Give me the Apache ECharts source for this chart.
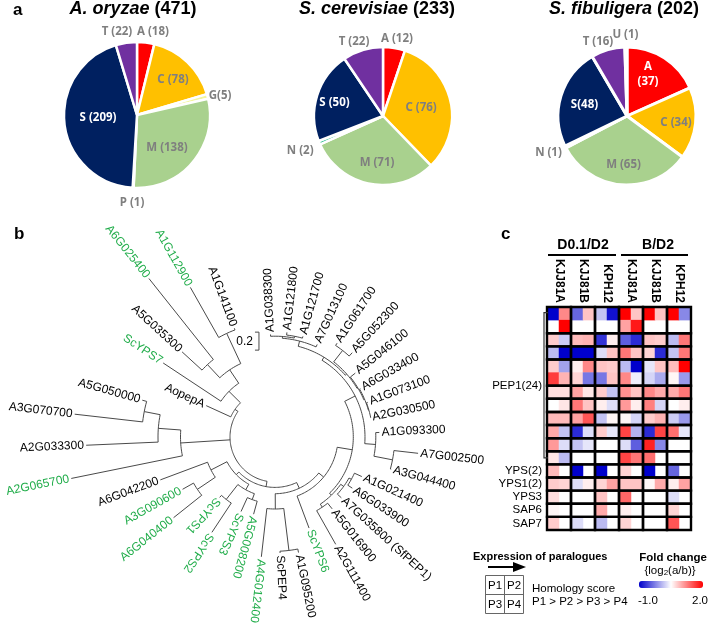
<!DOCTYPE html>
<html><head><meta charset="utf-8">
<script src="https://cdn.jsdelivr.net/npm/echarts@6/dist/echarts.min.js"></script>
<style>html,body{margin:0;padding:0;background:#fff}#c{width:709px;height:625px}</style>
</head><body><div id="c"></div>
<script>
// ================= DATA =================
// Panel a: pie charts
const pieTitles = ['A. oryzae', 'S. cerevisiae', 'S. fibuligera'];
const pieTotals = [471, 233, 202];
const pie1Names = ['A', 'C', 'G', 'M', 'P', 'S', 'T'];
const pie1Values = [18, 78, 5, 138, 1, 209, 22];
const pie2Names = ['A', 'C', 'M', 'N', 'S', 'T'];
const pie2Values = [12, 76, 71, 2, 50, 22];
const pie3Names = ['A', 'C', 'M', 'N', 'S', 'T', 'U'];
const pie3Values = [37, 34, 65, 1, 48, 16, 1];

// Panel b: tree (leaves in clockwise order from top)
const leafNames = ['A1G038300','A1G121800','A1G121700','A7G013100','A1G061700','A5G052300','A5G046100','A6G033400','A1G073100','A2G030500','A1G093300','A7G002500','A3G044400','A1G021400','A6G033900','A7G035800 (SfPEP1)','A5G016900','A2G111400','ScYPS6','A1G095200','ScPEP4','A4G012400','A5G008200','ScYPS3','ScYPS2','ScYPS1','A6G040400','A3G090600','A6G042200','A2G065700','A2G033300','A3G070700','A5G050000','AopepA','ScYPS7','A5G035300','A6G025400','A1G112900','A1G141100'];
const leafDist = [0.64,0.67,0.66,0.63,0.75,0.77,0.64,0.59,0.60,0.58,0.66,1.10,0.84,0.56,0.53,0.50,0.52,0.87,0.58,0.81,0.79,0.84,0.39,0.41,0.77,0.41,0.94,0.68,0.86,1.81,1.60,1.74,1.03,0.34,0.99,0.90,1.75,1.41,0.79];
const greenLeaves = ['ScYPS6','A4G012400','A5G008200','ScYPS3','ScYPS2','ScYPS1','A6G040400','A3G090600','A2G065700','ScYPS7','A6G025400','A1G112900'];
// internal node: [distance from root, children...]; leaf = index into leafNames
const treeTopology =
[0.00,
  [0.06,
    [0.13,
      [0.20,
        [0.37,
          [0.50,
            [0.54,
              [0.60, [0.62, 0, [0.64, 1, 2]], 3],
              [0.56, [0.72, 4, 5], [0.57, 6, [0.58, 7, [0.585, 8, 9]]]]
            ],
            [0.62, 10, [0.83, 11, 12]]
          ],
          [0.40, [0.44, [0.47, 13, 14], 15], [0.44, 16, 17]]
        ],
        18
      ],
      [0.30, [0.77, 19, 20], 21]
    ],
    [0.10,
      [0.17, [0.24, 22, 23], [0.38, 24, 25]],
      [0.30, [0.54, 26, 27], 28]
    ]
  ],
  [0.55, 29, [0.80, 30, [0.98, 31, 32]]],
  [0.04, 33, [0.22, 34, [0.40, [0.60, 35, 36], [0.77, 37, 38]]]]
];
const scaleBarLength = 0.2;

// Panel c: heatmap (log2 fold change; null = blank)
const heatGroups = ['D0.1/D2', 'B/D2'];
const heatCols = ['KJJ81A', 'KJJ81B', 'KPH12', 'KJJ81A', 'KJJ81B', 'KPH12'];
const heatRowLabels = ['PEP1(24)', 'YPS(2)', 'YPS1(2)', 'YPS3', 'SAP6', 'SAP7'];
const pep1Values = [
  [-1, 1.2, -0.4, 0.85, 0.15, -0.9, 2, 0.85, 2, 0.85, 2, -0.2],
  [null, 2, null, null, null, null, 1.05, 1.85, null, null, null, null],
  [0.8, 0.2, 0.9, 0.95, -0.7, 0.6, -0.45, -0.75, 0.85, 0.8, 0.1, 1.3],
  [0.1, -1, -1, -1, 0.3, 0.85, 1.3, 0.85, 0.75, -0.75, 0.15, 1.3],
  [0.8, -0.05, 0.6, 1.2, 0.85, 0.8, 0.1, -1, 0.35, 0.85, 0.9, 2],
  [1.65, 0.95, 0.75, -0.3, -0.3, 0.85, 1.2, 0.4, 0.25, 0.0, 0.55, -0.1],
  [0.7, 0.7, 1.05, 0.65, 0.8, 0.15, 1.15, 0.85, 1.2, 1.0, 1.0, 1.3],
  [null, 0.65, 1.3, 0.85, 0.6, 0.3, 1.1, 0.6, 1.25, 0.25, null, 0.6],
  [0.9, 0.9, 1.05, 1.5, 0.15, 0.55, 0.55, 0.25, 0.8, 0.95, 0.2, -0.1],
  [1.0, 0.15, -0.75, 0.3, 0.8, 0.35, 1.6, 0.05, -0.75, 1.6, 1.35, 0.35],
  [1.1, 0.3, 0.15, 0.35, null, null, 0.3, -0.45, 1.8, -0.2, null, null],
  [0.65, 0.1, null, null, null, null, 1.6, 1.3, 1.35, null, null, null]
];
const ypsValues  = [0.9, null, -1, null, -1, null, 0.75, null, -1, null, -0.4, null];
const yps1Values = [0.8, 0.75, 0.3, 0.6, 0.75, 1.05, 0.85, 0.85, 0.55, 1.0, 0.6, 1.05];
const yps3Values = [0.7, null, null, null, 0.85, null, 1.4, null, null, null, 0.3, null];
const sap6Values = [0.55, null, null, null, 1.0, null, 0.6, null, null, null, 0.75, null];
const sap7Values = [0.8, null, 0.3, null, 0.1, null, 0.75, null, null, null, 1.5, null];
const colorScaleMin = -1.0, colorScaleMax = 2.0;

// ================= STYLE / LAYOUT =================
const sliceColors = {A:'#FF0000', C:'#FFC000', G:'#F4F59C', M:'#A9D18E', P:'#C9D9EE', N:'#2FBF8F', S:'#002060', T:'#7030A0', U:'#C9D9EE'};
const pieNames = [pie1Names, pie2Names, pie3Names];
const pieValues = [pie1Values, pie2Values, pie3Values];
const pieSep = [[' ',' ','',' ',' ',' ',' '], [' ',' ',' ',' ',' ',' '], ['\n',' ',' ',' ','',' ',' ']];
const whiteLabels = [['S'], ['S'], ['S', 'A']];
const pieCenters = [[137, 115], [383, 116], [627, 116]];
const pieRadius = [73, 69, 69];
const pieBorder = [2.5, 2.5, 3];
const pieLabelNudge = [
  [[11.6,-46.8],[10.8,-8.5],[47.7,-9.7],[2,9.6],[-3,51.6],[-2.7,-1.3],[-14.7,-46.9]],
  [[8.4,-43],[4.4,-0.4],[0.5,13],[-51,21.6],[-15.6,-2.7],[-18.9,-41]],
  [[2.2,-12.6],[14.7,3.3],[-0.8,14.6],[-47.7,21.2],[-9.5,-1],[-19.5,-41.1],[-1,-46.5]]
];
const titleCenters = [[133, 9], [377, 9], [624, 9]];
const LEAF_START = -2.5, LEAF_STEP = 9;
const GREEN = '#22ad4b';
const FONT = '"Liberation Sans", Arial, sans-serif';

// ================= BUILD =================
function pieLabelPos(p, i) {
  const vals = pieValues[p];
  const tot = vals.reduce((a, b) => a + b, 0);
  let cum = 0; for (let k = 0; k < i; k++) cum += vals[k];
  const mid = (cum + vals[i] / 2) / tot * 2 * Math.PI;
  const [cx, cy] = pieCenters[p]; const r = pieRadius[p] / 2;
  const n = pieLabelNudge[p][i];
  return [cx + r * Math.sin(mid) + n[0], cy - r * Math.cos(mid) + n[1]];
}
const pieSeries = pieValues.map((vals, p) => ({
  type: 'pie', center: pieCenters[p], radius: pieRadius[p], startAngle: 90, clockwise: true,
  silent: true, animation: false, avoidLabelOverlap: false,
  itemStyle: { borderColor: '#fff', borderWidth: pieBorder[p] },
  label: {
    show: true, position: 'outside',
    formatter: (prm) => pieNames[p][prm.dataIndex] + pieSep[p][prm.dataIndex] + '(' + prm.value + ')',
    fontFamily: '"Noto Sans", sans-serif', fontWeight: 'bold', fontSize: 11.5, color: '#7f7f7f', lineHeight: 15
  },
  labelLine: { show: false },
  labelLayout: (prm) => { const pos = pieLabelPos(p, prm.dataIndex); return { x: pos[0], y: pos[1], align: 'center', verticalAlign: 'middle' }; },
  data: vals.map((v, i) => {
    const nm = pieNames[p][i];
    const it = { value: v, name: nm, itemStyle: { color: sliceColors[nm] } };
    if (whiteLabels[p].includes(nm)) it.label = { color: '#fff' };
    return it;
  })
}));

// tree layout
function leafAngle(i) { return LEAF_START + LEAF_STEP * i; }
const treeSegs = [];
function layoutNode(node, parentD) {
  if (typeof node === 'number') {
    const a = leafAngle(node);
    treeSegs.push([0, parentD, leafDist[node], a, a]);
    return a;
  }
  const d = node[0];
  const angs = node.slice(1).map(ch => layoutNode(ch, d));
  const a0 = angs[0], a1 = angs[angs.length - 1];
  treeSegs.push([1, d, d, a0, a1]);
  const a = (a0 + a1) / 2;
  if (parentD !== null) treeSegs.push([0, parentD, d, a, a]);
  return a;
}
layoutNode(treeTopology, null);
treeSegs.push([2, 0.58, scaleBarLength, -9.5, -9.5]);

function renderBranch(params, api) {
  const t = api.value(0), d1 = api.value(1), d2 = api.value(2), a1 = api.value(3), a2 = api.value(4);
  const st = { stroke: '#4a4a4a', lineWidth: 1, fill: 'none' };
  if (t === 0) {
    return { type: 'polyline', shape: { points: [api.coord([d1, a1]), api.coord([d2, a1])] }, style: st, silent: true };
  }
  if (t === 1) {
    const n = Math.max(2, Math.ceil(Math.abs(a2 - a1) / 1.5));
    const pts = [];
    for (let k = 0; k <= n; k++) pts.push(api.coord([d1, a1 + (a2 - a1) * k / n]));
    return { type: 'polyline', shape: { points: pts }, style: st, silent: true };
  }
  const p = api.coord([d1, a1]);
  const q0 = api.coord([0, a1]), q1 = api.coord([1, a1]);
  const L = d2 * Math.hypot(q1[0] - q0[0], q1[1] - q0[1]);
  return { type: 'group', children: [
    { type: 'polyline', shape: { points: [[p[0] - 4, p[1] - L / 2], [p[0], p[1] - L / 2], [p[0], p[1] + L / 2], [p[0] - 4, p[1] + L / 2]] }, style: st },
    { type: 'text', x: p[0] - 6, y: p[1] + 1, style: { text: String(d2), align: 'right', textAlign: 'right', verticalAlign: 'middle', textVerticalAlign: 'middle', font: '12px ' + FONT, fill: '#000' } }
  ] };
}
function renderLeafLabel(params, api) {
  const i = params.dataIndex;
  const d = api.value(0), a = api.value(1);
  const p = api.coord([d + 0.025, a]);
  const inward = a > 228 && a < 342;
  const phi = (90 - a) * Math.PI / 180;
  const name = leafNames[i];
  return { type: 'text', x: p[0], y: p[1], rotation: inward ? phi + Math.PI : phi, silent: true,
    style: { text: name, align: inward ? 'right' : 'left', textAlign: inward ? 'right' : 'left', verticalAlign: 'middle', textVerticalAlign: 'middle',
      fill: greenLeaves.includes(name) ? GREEN : '#000', font: '12px ' + FONT } };
}
const leafData = leafNames.map((n, i) => [leafDist[i], leafAngle(i)]);

// heatmap
const heatRows = [...pep1Values, ypsValues, yps1Values, yps3Values, sap6Values, sap7Values];
const heatData = [];
heatRows.forEach((row, r) => row.forEach((v, c) => { if (v !== null) heatData.push([c, r, v]); }));
const subColIds = heatCols.flatMap((c, i) => [c + i + 'a', c + i + 'b']);
const rowIds = heatRows.map((_, i) => 'r' + i);
const rowAxisLabels = rowIds.map((_, i) => i === 6 ? '{p|' + heatRowLabels[0] + '}' : (i >= 12 ? heatRowLabels[i - 11] : ''));
const rowBlocks = [[0,1],[2,2],[3,3],[4,5],[6,6],[7,7],[8,8],[9,9],[10,10],[11,11],[12,12],[13,13],[14,14],[15,15],[16,16]];
const blockData = [];
heatCols.forEach((_, c) => rowBlocks.forEach(b => blockData.push([2 * c, b[0], b[1]])));

function renderBlock(params, api) {
  const c0 = api.value(0), r0 = api.value(1), r1 = api.value(2);
  const p = api.coord([c0, r0]); const s = api.size([1, 1]);
  return { type: 'rect', silent: true, shape: { x: p[0] - s[0] / 2, y: p[1] - s[1] / 2, width: 2 * s[0], height: (r1 - r0 + 1) * s[1] },
    style: { fill: 'none', stroke: '#000', lineWidth: 2.4 } };
}
function renderBracket(params, api) {
  const r0 = api.value(1), r1 = api.value(2);
  const p0 = api.coord([0, r0]), p1 = api.coord([0, r1]); const s = api.size([1, 1]);
  const x = p0[0] - s[0] / 2 - 3;
  return { type: 'polyline', silent: true, shape: { points: [[x + 4, p0[1] - 1], [x, p0[1] - 1], [x, p1[1]], [x + 4, p1[1]]] },
    style: { stroke: '#333', lineWidth: 1.2, fill: 'none' } };
}

// graphics (titles, panel letters, legend)
const G = [];
function txt(x, y, text, font, align, extra) {
  G.push({ type: 'text', x, y, silent: true, style: Object.assign({ text, font, align: align || 'left', textAlign: align || 'left', verticalAlign: 'middle', textVerticalAlign: 'middle', fill: '#000' }, extra || {}) });
}
function line(x1, y1, x2, y2, w, col) {
  G.push({ type: 'line', silent: true, shape: { x1, y1, x2, y2 }, style: { stroke: col || '#000', lineWidth: w } });
}
txt(13, 10.5, 'a', 'bold 17px ' + FONT);
txt(14, 234, 'b', 'bold 17px ' + FONT);
txt(501, 234, 'c', 'bold 17px ' + FONT);
pieTitles.forEach((t, i) => {
  G.push({ type: 'text', x: titleCenters[i][0], y: titleCenters[i][1], silent: true, style: {
    text: '{i|' + t + '}{n| (' + pieTotals[i] + ')}', align: 'center', textAlign: 'center', verticalAlign: 'middle', textVerticalAlign: 'middle',
    rich: { i: { fontStyle: 'italic', fontWeight: 'bold', fontSize: 18, fontFamily: FONT, fill: '#000', color: '#000' },
            n: { fontWeight: 'bold', fontSize: 18, fontFamily: FONT, fill: '#000', color: '#000' } } } });
});
// heatmap group headers
txt(583, 245, heatGroups[0], 'bold 14px ' + FONT, 'center');
txt(658, 245, heatGroups[1], 'bold 14px ' + FONT, 'center');
line(548, 255, 616, 255, 2);
line(621, 255, 688, 255, 2);
// legend: expression of paralogues
txt(473, 557, 'Expression of paralogues', 'bold 11px ' + FONT);
line(488, 567, 514, 567, 2);
G.push({ type: 'polygon', silent: true, shape: { points: [[513, 562], [526, 567], [513, 572]] }, style: { fill: '#000' } });
G.push({ type: 'rect', silent: true, shape: { x: 485.5, y: 575.5, width: 38, height: 38 }, style: { fill: 'none', stroke: '#666', lineWidth: 1 } });
line(504.5, 575.5, 504.5, 613.5, 1, '#666');
line(485.5, 594.5, 523.5, 594.5, 1, '#666');
txt(495, 585.5, 'P1', '11.5px ' + FONT, 'center');
txt(514, 585.5, 'P2', '11.5px ' + FONT, 'center');
txt(495, 604.5, 'P3', '11.5px ' + FONT, 'center');
txt(514, 604.5, 'P4', '11.5px ' + FONT, 'center');
txt(532, 589, 'Homology score', '11.5px ' + FONT);
txt(532, 602, 'P1 > P2 > P3 > P4', '11.5px ' + FONT);
// legend: fold change
txt(673, 558, 'Fold change', 'bold 11.5px ' + FONT, 'center');
G.push({ type: 'text', x: 670, y: 571, silent: true, style: { text: '{{n|log}{s|2}{n|(a/b)}}', font: '11.5px ' + FONT, align: 'center', textAlign: 'center', verticalAlign: 'middle', textVerticalAlign: 'middle', fill: '#000',
  rich: { n: { fontSize: 11.5, fontFamily: FONT, fill: '#000' }, s: { fontSize: 8, fontFamily: FONT, fill: '#000', verticalAlign: 'bottom', lineHeight: 7 } } } });
txt(638, 601, colorScaleMin.toFixed(1), '11.5px ' + FONT, 'left');
txt(708, 601, colorScaleMax.toFixed(1), '11.5px ' + FONT, 'right');

const series = [...pieSeries,
  { type: 'custom', coordinateSystem: 'polar', polarIndex: 0, data: treeSegs, renderItem: renderBranch, silent: true, animation: false },
  { type: 'custom', coordinateSystem: 'polar', polarIndex: 0, data: leafData, renderItem: renderLeafLabel, silent: true, animation: false },
  { type: 'heatmap', xAxisIndex: 0, yAxisIndex: 0, data: heatData, silent: true, animation: false, itemStyle: { borderWidth: 0 }, emphasis: { disabled: true } },
  { type: 'custom', xAxisIndex: 0, yAxisIndex: 0, data: blockData, renderItem: renderBlock, silent: true, animation: false, z: 5 },
  { type: 'custom', xAxisIndex: 0, yAxisIndex: 0, data: [[0, 0, 11]], renderItem: renderBracket, silent: true, animation: false, z: 5 }
];
const heatIdx = pieSeries.length + 2;

const option = {
  backgroundColor: '#fff',
  animation: false,
  textStyle: { fontFamily: FONT },
  polar: { center: [275, 437], radius: 252 },
  angleAxis: { type: 'value', min: -10, max: 350, startAngle: 100, clockwise: true, show: false },
  radiusAxis: { type: 'value', min: -0.5, max: 2.3, show: false },
  grid: { left: 547, top: 307, width: 144, height: 223, show: false, containLabel: false, outerBoundsMode: 'none' },
  xAxis: [
    { type: 'category', data: subColIds, gridIndex: 0, show: false },
    { type: 'category', data: heatCols.map((c, i) => c + '#' + i), gridIndex: 0, position: 'top', axisLine: { show: false }, axisTick: { show: false }, splitLine: { show: false },
      axisLabel: { rotate: 90, margin: 4, interval: 0, fontFamily: FONT, fontWeight: 'bold', fontSize: 12, color: '#000', formatter: (v, i) => heatCols[i] } }
  ],
  yAxis: { type: 'category', data: rowIds, inverse: true, gridIndex: 0, axisLine: { show: false }, axisTick: { show: false }, splitLine: { show: false },
    axisLabel: { interval: 0, margin: 5, fontFamily: FONT, fontSize: 11.5, color: '#000', formatter: (v, i) => rowAxisLabels[i],
      rich: { p: { fontFamily: FONT, fontSize: 11.5, color: '#000', padding: [0, 0, 13, 0] } } } },
  visualMap: { type: 'continuous', min: colorScaleMin, max: colorScaleMax, seriesIndex: heatIdx, orient: 'horizontal', left: 639, top: 581,
    itemWidth: 7, itemHeight: 64, calculable: false, padding: 0, hoverLink: false, text: null, showLabel: false,
    inRange: { color: ['#0000CC', '#FFFFFF', '#FF0000'] } },
  graphic: { elements: G },
  series
};
const chart = echarts.init(document.getElementById('c'), null, { renderer: 'canvas', width: 709, height: 625 });
chart.setOption(option);
</script>
</body></html>
